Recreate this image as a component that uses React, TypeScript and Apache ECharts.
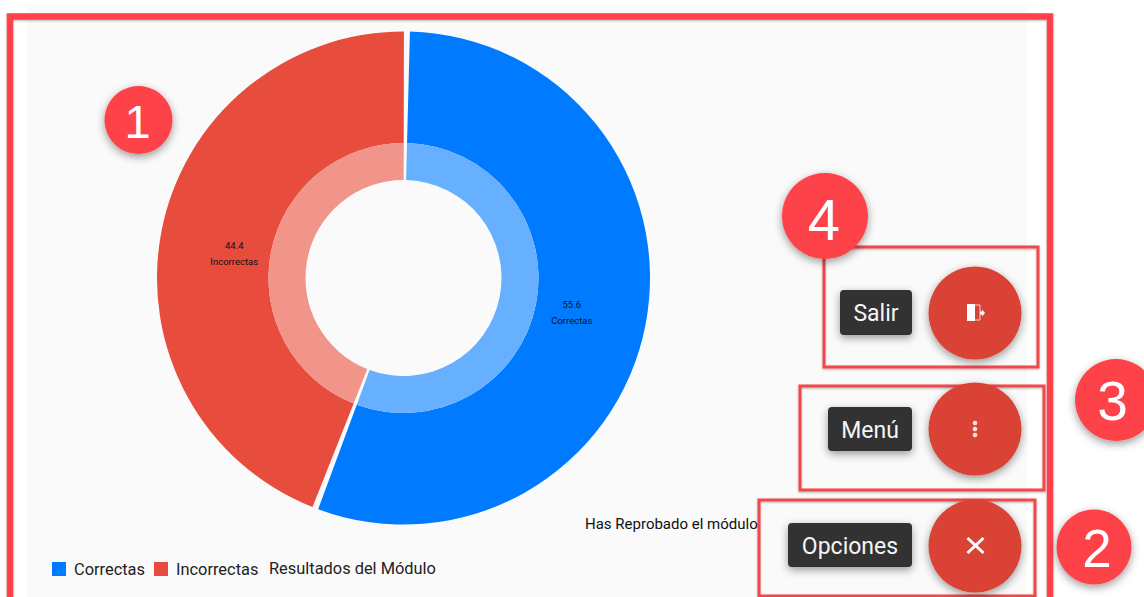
import React, { useEffect, useRef } from "react";
import * as echarts from "echarts";

const categories = ["Correctas", "Incorrectas"];
const scores = [55.6, 44.4];
const outerColors = ["#007bff", "#e74c3c"];
const innerColors = ["#66b0ff", "#f1948a"];
const chartTitle = "Resultados del Módulo";
const verdict = "Has Reprobado el módulo";

const UI_FONT = "Roboto";
const BADGE_RED = "#fd4349";
const FAB_RED = "#d94334";
const CHIP_DARK = "#333333";

// Numbered callouts: label, centre, radius and digit placement
const badges = [
  { label: "1", cx: 138.5, cy: 120, r: 34, size: 47, textX: 137.5 },
  { label: "2", cx: 1094, cy: 547, r: 37.5, size: 53, textX: 1097 },
  { label: "3", cx: 1116, cy: 400, r: 41, size: 55, textX: 1112.5 },
  { label: "4", cx: 825, cy: 216, r: 43, size: 58, textX: 824 },
];

// Highlight frames around each action
const frames = [
  { x: 824, y: 247, w: 214, h: 120 },
  { x: 800, y: 386, w: 244, h: 104 },
  { x: 759, y: 500, w: 276, h: 96 },
];

// Speed-dial actions, with the chip that names each one
const actions = [
  { label: "Salir", cy: 313, chipX: 840, chipY: 290, chipW: 72, chipH: 45 },
  { label: "Menú", cy: 429, chipX: 828, chipY: 407, chipW: 84, chipH: 44 },
  { label: "Opciones", cy: 546, chipX: 788, chipY: 523, chipW: 124, chipH: 44 },
];
const FAB_X = 975;
const FAB_R = 46.5;

const softShadow = { shadowBlur: 8, shadowOffsetY: 3, shadowColor: "rgba(0,0,0,0.4)" };
const lineShadow = { shadowBlur: 2, shadowOffsetY: 1, shadowColor: "rgba(0,0,0,0.3)" };

function buildGraphics() {
  const items: any[] = [
    { type: "rect", z: -10, shape: { x: 27, y: 6, width: 1000, height: 591 }, style: { fill: "#fafafa" } },
    {
      type: "rect",
      z: 5,
      shape: { x: 10, y: 16.5, width: 1040, height: 590 },
      style: { fill: "none", stroke: BADGE_RED, lineWidth: 6.5, ...lineShadow },
    },
  ];

  frames.forEach((f) => {
    items.push({
      type: "rect",
      z: 6,
      shape: { x: f.x, y: f.y, width: f.w, height: f.h },
      style: { fill: "none", stroke: "#f2474c", lineWidth: 3, ...lineShadow },
    });
  });

  actions.forEach((a) => {
    items.push({
      type: "circle",
      z: 8,
      shape: { cx: FAB_X, cy: a.cy, r: FAB_R },
      style: { fill: FAB_RED, ...softShadow },
    });
    items.push({
      type: "rect",
      z: 8,
      shape: { x: a.chipX, y: a.chipY, width: a.chipW, height: a.chipH, r: 4 },
      style: { fill: CHIP_DARK, ...softShadow },
    });
    items.push({
      type: "text",
      z: 9,
      style: {
        x: a.chipX + a.chipW / 2,
        y: a.chipY + a.chipH / 2 + 1,
        text: a.label,
        fill: "#f5f5f5",
        font: `23px ${UI_FONT}`,
        align: "center",
        verticalAlign: "middle",
      },
    });
  });

  // Exit glyph: door leaf, jamb and arrow
  items.push({ type: "rect", z: 9, shape: { x: 967, y: 304, width: 8, height: 17 }, style: { fill: "#ffffff" } });
  items.push({
    type: "polyline",
    z: 9,
    shape: { points: [[975, 305], [980, 305], [980, 320], [975, 320]] },
    style: { fill: "none", stroke: "#f7d0cb", lineWidth: 1 },
  });
  items.push({
    type: "polygon",
    z: 9,
    shape: { points: [[980, 311.5], [982, 311.5], [982, 309.5], [985, 313], [982, 316.5], [982, 314.5], [980, 314.5]] },
    style: { fill: "#ffffff" },
  });

  // Overflow dots
  [423, 429, 435].forEach((cy) => {
    items.push({ type: "circle", z: 9, shape: { cx: FAB_X, cy, r: 2.3 }, style: { fill: "#fbe3e0" } });
  });

  // Close cross
  [
    [967.5, 538, 983.5, 553],
    [983.5, 538, 967.5, 553],
  ].forEach(([x1, y1, x2, y2]) => {
    items.push({
      type: "line",
      z: 9,
      shape: { x1, y1, x2, y2 },
      style: { stroke: "#ffffff", lineWidth: 3 },
    });
  });

  badges.forEach((b) => {
    items.push({
      type: "circle",
      z: 10,
      shape: { cx: b.cx, cy: b.cy, r: b.r },
      style: { fill: BADGE_RED, ...softShadow },
    });
    items.push({
      type: "text",
      z: 11,
      style: {
        x: b.textX,
        y: b.cy + (b.label === "4" ? 3 : 1),
        text: b.label,
        fill: "#ffffff",
        font: `${b.size}px "Liberation Sans"`,
        align: "center",
        verticalAlign: "middle",
      },
    });
  });

  return items;
}

const App = () => {
  const ref = useRef<HTMLDivElement>(null);

  useEffect(() => {
    const chart = echarts.init(ref.current!, undefined, { renderer: "svg" });
    const rows = categories.map((name, i) => ({ name, value: scores[i] }));
    const sharedPie = {
      type: "pie" as const,
      center: [403.5, 278],
      startAngle: 89.2,
      padAngle: 1.4,
      clockwise: true,
      avoidLabelOverlap: false,
      silent: true,
      labelLine: { show: false },
    };

    chart.setOption({
      animation: false,
      backgroundColor: "#ffffff",
      color: outerColors,
      title: [
        {
          text: chartTitle,
          left: 269,
          top: 560,
          padding: 0,
          textStyle: { fontFamily: UI_FONT, fontSize: 16.4, fontWeight: "normal", color: "#222222" },
        },
        {
          text: verdict,
          left: 585,
          top: 516,
          padding: 0,
          textStyle: { fontFamily: UI_FONT, fontSize: 15, fontWeight: "normal", color: "#111111" },
        },
      ],
      legend: {
        data: categories,
        left: 52,
        top: 561,
        padding: 0,
        icon: "rect",
        itemWidth: 14,
        itemHeight: 14,
        itemGap: 9,
        selectedMode: false,
        textStyle: { fontFamily: UI_FONT, fontSize: 16.4, color: "#222222", padding: [0, 0, 0, 3] },
      },
      series: [
        {
          ...sharedPie,
          name: "Resultados",
          radius: [135, 246.5],
          data: rows.map((row, i) => ({
            ...row,
            itemStyle: { color: outerColors[i] },
            label: { offset: i === 0 ? [-22, -2.5] : [21, 12] },
          })),
          label: {
            show: true,
            position: "inside",
            rotate: 0,
            formatter: "{c}\n{b}",
            fontFamily: UI_FONT,
            fontSize: 9.5,
            lineHeight: 16,
            color: "#111111",
          },
        },
        {
          ...sharedPie,
          name: "Resultados interior",
          radius: [98, 135],
          data: rows.map((row, i) => ({ ...row, itemStyle: { color: innerColors[i] } })),
          label: { show: false },
        },
      ],
      graphic: { elements: buildGraphics() },
    });

    return () => chart.dispose();
  }, []);

  return <div ref={ref} style={{ position: "fixed", left: 0, top: 0, width: 1144, height: 597 }} />;
};

export default App;
